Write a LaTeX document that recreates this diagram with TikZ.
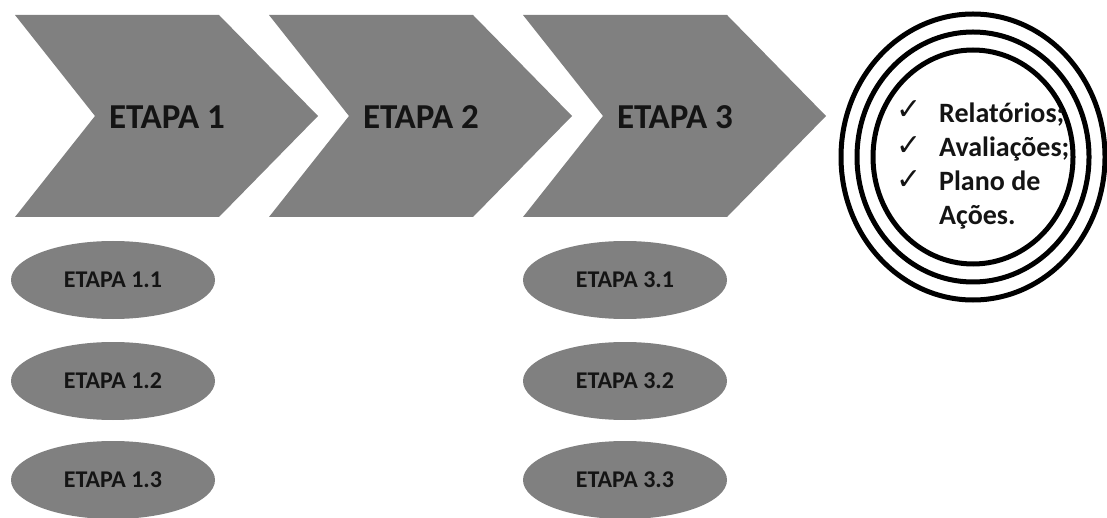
\documentclass[tikz,border=0pt]{standalone}
\usepackage{fontspec}
\setmainfont{Carlito}
\newfontfamily\symfont{DejaVu Sans}
\usetikzlibrary{shapes.geometric}

\definecolor{stepgray}{RGB}{128,128,128}
\definecolor{inktext}{RGB}{20,20,20}

\tikzset{
  chevronshape/.style={fill=stepgray, draw=none},
  steplabel/.style={text=inktext, font=\bfseries\fontsize{35}{40}\selectfont, inner sep=0pt},
  substep/.style={ellipse, fill=stepgray, draw=none, minimum width=204pt, minimum height=78pt,
    inner sep=0pt, text=inktext, font=\bfseries\fontsize{24}{28}\selectfont},
  ring/.style={draw=black, line width=5pt},
  checkmark/.style={font=\symfont\fontsize{30}{34}\selectfont, text=inktext, inner sep=0pt},
  resultline/.style={anchor=base west, font=\bfseries\fontsize{28}{32}\selectfont, text=inktext, inner sep=0pt},
}

\begin{document}
\begin{tikzpicture}[x=1pt, y=-1pt]
  \useasboundingbox[fill=white] (0,0) rectangle (1107,518);

  % three chevrons: left edge L, notch L+80, top/bottom right corner L+204, tip L+303
  \foreach \L/\n in {15/1, 269/2, 523/3} {
    \fill[chevronshape] (\L,15) -- ({\L+204},15) -- ({\L+303},116) -- ({\L+204},217)
      -- (\L,217) -- ({\L+80},116) -- cycle;
    \node[steplabel] (etapa\n) at ({\L+152},117) {ETAPA \n};
  }

  % sub-steps below stages 1 and 3
  \node[substep] (e11) at (113,280) {ETAPA 1.1};
  \node[substep] (e12) at (113,381) {ETAPA 1.2};
  \node[substep] (e13) at (113,480) {ETAPA 1.3};
  \node[substep] (e31) at (625,280) {ETAPA 3.1};
  \node[substep] (e32) at (625,381) {ETAPA 3.2};
  \node[substep] (e33) at (625,480) {ETAPA 3.3};

  % concentric rings of the outcome
  \coordinate (res) at (973,157);
  \draw[ring] (res) ellipse [x radius=132, y radius=143];
  \draw[ring] (res) ellipse [x radius=116, y radius=125];
  \draw[ring] (res) ellipse [x radius=100, y radius=107];

  % outcome list
  \node[checkmark] (c1) at (909,110) {✓};
  \node[checkmark] (c2) at (909,146) {✓};
  \node[checkmark] (c3) at (909,180) {✓};
  \node[resultline] (r1) at (939,123) {Relatórios;};
  \node[resultline] (r2) at (939,157) {Avaliações;};
  \node[resultline] (r3) at (939,191) {Plano de};
  \node[resultline] (r4) at (939,225) {Ações.};
\end{tikzpicture}
\end{document}
